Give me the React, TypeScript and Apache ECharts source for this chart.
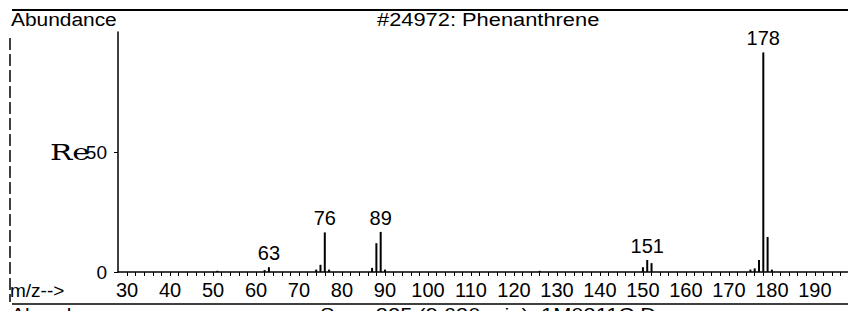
import React, { useEffect, useRef } from "react";
import * as echarts from "echarts";

const mzValues = [51, 62, 63, 74, 75, 76, 77, 87, 88, 89, 90, 126, 150, 151, 152, 175, 176, 177, 178, 179, 180];
const abundances = [0.5, 0.8, 2, 1, 3, 16.5, 1, 1.7, 12, 16.7, 1, 0.5, 2, 5, 3.7, 1, 1.5, 5, 91.5, 14.6, 1];
const labeledPeaks = [63, 76, 89, 151, 178];
const xTickLabels = [30, 40, 50, 60, 70, 80, 90, 100, 110, 120, 130, 140, 150, 160, 170, 180, 190];
const xMinorTicks = [30, 32, 34, 36, 38, 40, 42, 44, 46, 48, 50, 52, 54, 56, 58, 60, 62, 64, 66, 68, 70, 72, 74, 76, 78, 80, 82, 84, 86, 88, 90, 92, 94, 96, 98, 100, 102, 104, 106, 108, 110, 112, 114, 116, 118, 120, 122, 124, 126, 128, 130, 132, 134, 136, 138, 140, 142, 144, 146, 148, 150, 152, 154, 156, 158, 160, 162, 164, 166, 168, 170, 172, 174, 176, 178, 180, 182, 184, 186, 188, 190, 192, 194, 196];
const yTickLabels = [0, 50];
const titleText = "#24972: Phenanthrene";
const yAxisName = "Abundance";
const xAxisName = "m/z-->";
const footerText = "Scan 325 (9.630 min): 1M0311C.D";

const FONT = "'Liberation Sans', Arial, sans-serif";

export default function App() {
  const ref = useRef<HTMLDivElement>(null);
  useEffect(() => {
    document.body.style.margin = "0";
    const chart = echarts.init(ref.current!, null, { renderer: "svg" });
    const data = mzValues.map((m, i) => {
      const item: any = { value: [m, abundances[i]] };
      if (labeledPeaks.includes(m)) {
        item.label = { show: true };
      }
      return item;
    });
    chart.setOption({
      animation: false,
      backgroundColor: "#fff",
      grid: { left: 118, right: 0, top: 32, bottom: 39, containLabel: false },
      xAxis: {
        type: "value",
        min: 27.9,
        max: 197.7,
        axisLine: { show: true, lineStyle: { color: "#000", width: 1.5 } },
        axisTick: {
          show: true,
          length: 4,
          customValues: xMinorTicks,
          lineStyle: { color: "#000", width: 1 },
        },
        axisLabel: {
          customValues: xTickLabels,
          color: "#000",
          fontFamily: FONT,
          fontSize: 20,
          margin: 8,
          showMinLabel: true,
          showMaxLabel: true,
        },
        splitLine: { show: false },
      },
      yAxis: {
        type: "value",
        min: 0,
        max: 100,
        axisLine: { show: true, lineStyle: { color: "#000", width: 1.5 } },
        axisTick: {
          show: true,
          length: 4,
          customValues: yTickLabels,
          lineStyle: { color: "#000", width: 1 },
        },
        axisLabel: {
          customValues: yTickLabels,
          color: "#000",
          fontFamily: FONT,
          fontSize: 19,
          margin: 11,
        },
        splitLine: { show: false },
      },
      series: [
        {
          type: "bar",
          barWidth: 2,
          itemStyle: { color: "#000" },
          label: {
            show: false,
            position: "top",
            distance: 4,
            color: "#000",
            fontFamily: FONT,
            fontSize: 20,
            formatter: (p: any) => String(p.value[0]),
          },
          data,
        },
      ],
      graphic: [
        {
          type: "line",
          shape: { x1: 12, y1: 10, x2: 848, y2: 10 },
          style: { stroke: "#000", lineWidth: 2 },
        },
        {
          type: "line",
          shape: { x1: 10, y1: 38, x2: 10, y2: 302 },
          style: { stroke: "#000", lineWidth: 1.5, lineDash: [12, 4] },
        },
        {
          type: "text",
          x: 11,
          y: 19,
          scaleX: 1.1,
          style: {
            text: yAxisName,
            fill: "#000",
            font: "19px " + FONT,
            textVerticalAlign: "middle",
          },
        },
        {
          type: "text",
          x: 377,
          y: 19,
          scaleX: 1.15,
          style: {
            text: titleText,
            fill: "#000",
            font: "19px " + FONT,
            textVerticalAlign: "middle",
          },
        },
        {
          type: "text",
          x: 50,
          y: 152,
          scaleX: 1.35,
          style: {
            text: "Re",
            fill: "#000",
            font: "22px 'DejaVu Serif', 'Liberation Serif', serif",
            textVerticalAlign: "middle",
          },
        },
        {
          type: "text",
          x: 10,
          y: 290,
          style: {
            text: xAxisName,
            fill: "#000",
            font: "19px " + FONT,
            textVerticalAlign: "middle",
          },
        },
        {
          type: "line",
          shape: { x1: 12, y1: 304, x2: 848, y2: 304 },
          style: { stroke: "#000", lineWidth: 1.5 },
        },
        {
          type: "text",
          x: 11,
          y: 305,
          scaleX: 1.1,
          style: {
            text: yAxisName,
            fill: "#000",
            font: "19px " + FONT,
            textVerticalAlign: "top",
          },
        },
        {
          type: "text",
          x: 320,
          y: 305,
          scaleX: 1.15,
          style: {
            text: footerText,
            fill: "#000",
            font: "19px " + FONT,
            textVerticalAlign: "top",
          },
        },
      ],
    });
    return () => chart.dispose();
  }, []);
  return <div ref={ref} style={{ position: "fixed", left: 0, top: 0, width: 848, height: 311 }} />;
}
